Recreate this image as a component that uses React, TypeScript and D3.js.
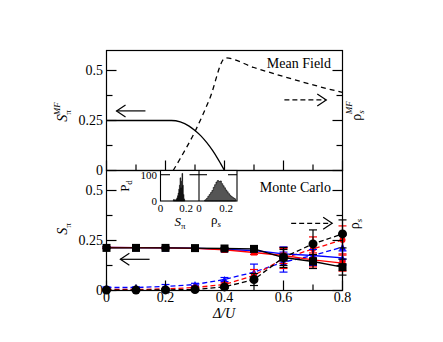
import * as d3 from 'd3';

// ---- Mean field (top panel) ----
const mfSpiX = [0, 0.1, 0.22, 0.25, 0.28, 0.3, 0.32, 0.34, 0.36, 0.38, 0.4];
const mfSpiY = [0.25, 0.25, 0.25, 0.243, 0.222, 0.2, 0.173, 0.139, 0.099, 0.052, 0];
const mfRhoX = [0.226, 0.25, 0.3, 0.35, 0.403, 0.5, 0.6, 0.7, 0.8];
const mfRhoY = [0, 0.06, 0.195, 0.36, 0.563, 0.515, 0.47, 0.428, 0.39];

// ---- Monte Carlo (bottom panel) ----
const deltaU = [0, 0.1, 0.2, 0.3, 0.4, 0.5, 0.6, 0.7, 0.8];
const sPiBlack = [0.213, 0.213, 0.213, 0.212, 0.21, 0.208, 0.165, 0.145, 0.117];
const sPiBlackErr = [0.004, 0.004, 0.004, 0.004, 0.005, 0.01, 0.04, 0.035, 0.04];
const sPiRed = [0.215, 0.214, 0.213, 0.211, 0.203, 0.19, 0.175, 0.153, 0.137];
const sPiRedErr = [0.004, 0.004, 0.004, 0.004, 0.005, 0.01, 0.04, 0.035, 0.04];
const sPiBlue = [0.215, 0.214, 0.213, 0.212, 0.205, 0.2, 0.183, 0.175, 0.163];
const sPiBlueErr = [0.004, 0.004, 0.004, 0.004, 0.005, 0.01, 0.035, 0.03, 0.035];
const rhoBlack = [0.002, 0.002, 0.003, 0.005, 0.018, 0.055, 0.165, 0.233, 0.283];
const rhoBlackErr = [0.003, 0.003, 0.004, 0.005, 0.008, 0.03, 0.05, 0.07, 0.07];
const rhoRed = [0.005, 0.005, 0.008, 0.015, 0.03, 0.075, 0.16, 0.208, 0.253];
const rhoRedErr = [0.003, 0.003, 0.004, 0.005, 0.008, 0.03, 0.05, 0.06, 0.07];
const rhoBlue = [0.015, 0.015, 0.02, 0.03, 0.055, 0.092, 0.142, 0.175, 0.217];
const rhoBlueErr = [0.003, 0.003, 0.01, 0.006, 0.01, 0.04, 0.05, 0.05, 0.06];

// ---- inset histograms ----
const histSpiX = [0.1, 0.105, 0.11, 0.115, 0.12, 0.125, 0.13, 0.135, 0.14, 0.145, 0.15, 0.155, 0.16, 0.165, 0.17, 0.175, 0.18, 0.185, 0.19];
const histSpiP = [4, 6, 3, 2, 5, 8, 12, 20, 30, 45, 60, 88, 50, 75, 105, 60, 25, 8, 2];
const histRhoX = [0.04, 0.05, 0.06, 0.07, 0.08, 0.09, 0.1, 0.11, 0.12, 0.13, 0.14, 0.15, 0.16, 0.17, 0.18, 0.19, 0.2, 0.21, 0.22, 0.23, 0.24, 0.25, 0.26, 0.27];
const histRhoP = [2, 5, 10, 18, 25, 32, 40, 52, 62, 72, 78, 74, 76, 66, 58, 50, 42, 35, 28, 22, 17, 13, 10, 8];

const yMajor = [0, 0.25, 0.5];
const yMinor = [0.125, 0.375];
const xMajor = [0, 0.2, 0.4, 0.6, 0.8];
const xMinor = [0.1, 0.3, 0.5, 0.7];

const TXT = { fontFamily: 'Liberation Serif' };

const x = d3.scaleLinear().domain([0, 0.8]).range([106.5, 342.5]);
const yTop = d3.scaleLinear().domain([0, 0.6]).range([170.5, 50.5]);
const yBot = d3.scaleLinear().domain([0, 0.6]).range([290.5, 170.5]);

const hx1 = d3.scaleLinear().domain([0, 0.3]).range([160.5, 199]);
const hx2 = d3.scaleLinear().domain([0, 0.28]).range([199, 237]);
const hy = d3.scaleLinear().domain([0, 116]).range([201, 170.5]);

function Frame({ y }: { y: d3.ScaleLinear<number, number> }) {
  const [y0, y1] = y.range();
  const x0 = x(0), x1 = x(0.8);
  return (
    <g stroke="#000" strokeWidth={1.2} fill="none">
      <rect x={x0} y={y1} width={x1 - x0} height={y0 - y1} />
      {yMajor.map((v) => (
        <g key={'M' + v}>
          <line x1={x0} x2={x0 + 10} y1={y(v)} y2={y(v)} />
          <line x1={x1} x2={x1 - 10} y1={y(v)} y2={y(v)} />
        </g>
      ))}
      {yMinor.map((v) => (
        <g key={'m' + v}>
          <line x1={x0} x2={x0 + 6} y1={y(v)} y2={y(v)} />
          <line x1={x1} x2={x1 - 6} y1={y(v)} y2={y(v)} />
        </g>
      ))}
      {xMajor.map((v) => (
        <line key={'X' + v} x1={x(v)} x2={x(v)} y1={y0} y2={y0 - 10} />
      ))}
      {xMinor.map((v) => (
        <line key={'x' + v} x1={x(v)} x2={x(v)} y1={y0} y2={y0 - 6} />
      ))}
    </g>
  );
}

function YLabels({ y }: { y: d3.ScaleLinear<number, number> }) {
  return (
    <g fontSize={14} textAnchor="end" style={TXT}>
      {yMajor.map((v) => (
        <text key={v} x={103} y={y(v)} dy="0.35em" style={TXT}>
          {v === 0 ? '0' : String(v)}
        </text>
      ))}
    </g>
  );
}

function Arrow({ y, x1, x2, yv, dashed }: any) {
  const xa = x(x1), xb = x(x2), yy = y(yv);
  const dir = xb > xa ? 1 : -1;
  return (
    <g stroke="#000" strokeWidth={1.2} fill="none">
      <line x1={xa} x2={xb} y1={yy} y2={yy} strokeDasharray={dashed ? '5,3' : undefined} />
      <path d={`M${xb - dir * 9},${yy - 6}L${xb},${yy}L${xb - dir * 9},${yy + 6}`} />
    </g>
  );
}

function Series({ vals, errs, color, dashed, shape, size }: any) {
  const pts = deltaU.map((d, i) => [x(d), yBot(vals[i])] as [number, number]);
  const line = d3.line()(pts) as string;
  return (
    <g>
      <path d={line} fill="none" stroke={color} strokeWidth={1.3} strokeDasharray={dashed ? '5,3' : undefined} />
      {deltaU.map((d, i) => {
        const cx = x(d), lo = yBot(vals[i] - errs[i]), hi = yBot(vals[i] + errs[i]);
        return (
          <g key={i} stroke={color} strokeWidth={1.2}>
            <line x1={cx} x2={cx} y1={lo} y2={hi} />
            <line x1={cx - 4} x2={cx + 4} y1={lo} y2={lo} />
            <line x1={cx - 4} x2={cx + 4} y1={hi} y2={hi} />
          </g>
        );
      })}
      {pts.map(([px, py], i) => {
        if (shape === 'circle') return <circle key={i} cx={px} cy={py} r={size / 2} fill={color} />;
        if (shape === 'square')
          return <rect key={i} x={px - size / 2} y={py - size / 2} width={size} height={size} fill={color} />;
        return (
          <path key={i} d={`M${px},${py - size / 2}L${px + size / 2},${py + size / 2}L${px - size / 2},${py + size / 2}Z`} fill={color} />
        );
      })}
    </g>
  );
}

function Hist({ xs, ps, sx, fill }: any) {
  const area = d3
    .area<number>()
    .x((_, i) => sx(xs[i]))
    .y0(hy(0))
    .y1((d) => hy(d))
    .curve(d3.curveStep);
  return <path d={area(ps) as string} fill={fill} stroke="#000" strokeWidth={0.6} />;
}

export default function App() {
  const topSpi = d3.line<number>().x((d) => x(d)).y((_, i) => yTop(mfSpiY[i])).curve(d3.curveMonotoneX)(mfSpiX) as string;
  const topRho = d3.line<number>().x((d) => x(d)).y((_, i) => yTop(mfRhoY[i])).curve(d3.curveMonotoneX)(mfRhoX) as string;

  return (
    <svg width={443} height={342} style={{ position: 'absolute', left: 0, top: 0, background: '#fff', ...TXT }}>
      {/* top panel: mean field */}
      <path d={topSpi} fill="none" stroke="#000" strokeWidth={1.3} />
      <path d={topRho} fill="none" stroke="#000" strokeWidth={1.3} strokeDasharray="5,4" />
      <Frame y={yTop} />
      <YLabels y={yTop} />
      <text x={331} y={68} fontSize={14} textAnchor="end" style={TXT}>Mean Field</text>
      <Arrow y={yTop} x1={0.132} x2={0.034} yv={0.298} />
      <Arrow y={yTop} x1={0.603} x2={0.745} yv={0.353} dashed />

      {/* bottom panel: Monte Carlo */}
      <Series vals={rhoBlue} errs={rhoBlueErr} color="#0000ff" dashed shape="tri" size={7} />
      <Series vals={rhoRed} errs={rhoRedErr} color="#ff0000" dashed shape="circle" size={6} />
      <Series vals={sPiBlue} errs={sPiBlueErr} color="#0000ff" shape="tri" size={7} />
      <Series vals={sPiRed} errs={sPiRedErr} color="#ff0000" shape="square" size={6} />
      <Series vals={rhoBlack} errs={rhoBlackErr} color="#000" dashed shape="circle" size={9} />
      <Series vals={sPiBlack} errs={sPiBlackErr} color="#000" shape="square" size={8} />
      <Frame y={yBot} />
      <YLabels y={yBot} />
      <text x={331} y={192} fontSize={14} textAnchor="end" style={TXT}>Monte Carlo</text>
      <Arrow y={yBot} x1={0.146} x2={0.047} yv={0.156} />
      <Arrow y={yBot} x1={0.626} x2={0.765} yv={0.336} dashed />
      <g fontSize={14} textAnchor="middle">
        {xMajor.map((v) => (
          <text key={v} x={x(v)} y={302} style={TXT}>{v === 0 ? '0' : String(v)}</text>
        ))}
      </g>
      <text x={224} y={318} fontSize={14} fontStyle="italic" textAnchor="middle" style={TXT}>
        Δ/U
      </text>

      {/* axis titles */}
      <text transform="translate(67,112) rotate(-90)" fontSize={14} textAnchor="middle" style={TXT}>
        <tspan fontStyle="italic">S</tspan>
        <tspan fontSize={9} dy={4}>π</tspan>
        <tspan fontSize={9} fontStyle="italic" dx={-5} dy={-11}>MF</tspan>
      </text>
      <text transform="translate(67,229) rotate(-90)" fontSize={14} textAnchor="middle" style={TXT}>
        <tspan fontStyle="italic">S</tspan>
        <tspan fontSize={9} dy={4}>π</tspan>
      </text>
      <text transform="translate(361,111) rotate(-90)" fontSize={14} textAnchor="middle" style={TXT}>
        <tspan>ρ</tspan>
        <tspan fontSize={9} fontStyle="italic" dy={3}>s</tspan>
        <tspan fontSize={9} fontStyle="italic" dx={-4} dy={-12}>MF</tspan>
      </text>
      <text transform="translate(359,224) rotate(-90)" fontSize={14} textAnchor="middle" style={TXT}>
        <tspan>ρ</tspan>
        <tspan fontSize={9} fontStyle="italic" dy={3}>s</tspan>
      </text>

      {/* inset */}
      <rect x={160.5} y={170.5} width={76.5} height={30.5} fill="#fff" />
      <Hist xs={histSpiX} ps={histSpiP} sx={hx1} fill="#111" />
      <Hist xs={histRhoX} ps={histRhoP} sx={hx2} fill="#555" />
      <g stroke="#000" strokeWidth={1.1} fill="none">
        <rect x={160.5} y={170.5} width={76.5} height={30.5} />
        <line x1={199} x2={199} y1={170.5} y2={201} />
        <line x1={160.5} x2={170} y1={hy(100)} y2={hy(100)} />
        <line x1={189.5} x2={199} y1={hy(100)} y2={hy(100)} />
        <line x1={199} x2={207} y1={hy(100)} y2={hy(100)} />
        <line x1={228} x2={237} y1={hy(100)} y2={hy(100)} />
      </g>
      <g fontSize={11}>
        <text x={157} y={hy(100)} dy="0.35em" textAnchor="end" style={TXT}>100</text>
        <text x={157} y={hy(0)} dy="0.35em" textAnchor="end" style={TXT}>0</text>
        <text x={hx1(0)} y={212} textAnchor="middle" style={TXT}>0</text>
        <text x={hx1(0.2)} y={212} textAnchor="middle" style={TXT}>0.2</text>
        <text x={hx2(0)} y={212} textAnchor="middle" style={TXT}>0</text>
        <text x={hx2(0.2)} y={212} textAnchor="middle" style={TXT}>0.2</text>
      </g>
      <text transform="translate(129,186) rotate(-90)" fontSize={13} textAnchor="middle" style={TXT}>
        <tspan>P</tspan>
        <tspan fontSize={9} dy={3}>d</tspan>
      </text>
      <text x={180} y={226} fontSize={13} textAnchor="middle" style={TXT}>
        <tspan fontStyle="italic">S</tspan>
        <tspan fontSize={9} dy={3}>π</tspan>
      </text>
      <text x={216} y={224} fontSize={13} textAnchor="middle" style={TXT}>
        <tspan>ρ</tspan>
        <tspan fontSize={9} fontStyle="italic" dy={3}>s</tspan>
      </text>
    </svg>
  );
}
